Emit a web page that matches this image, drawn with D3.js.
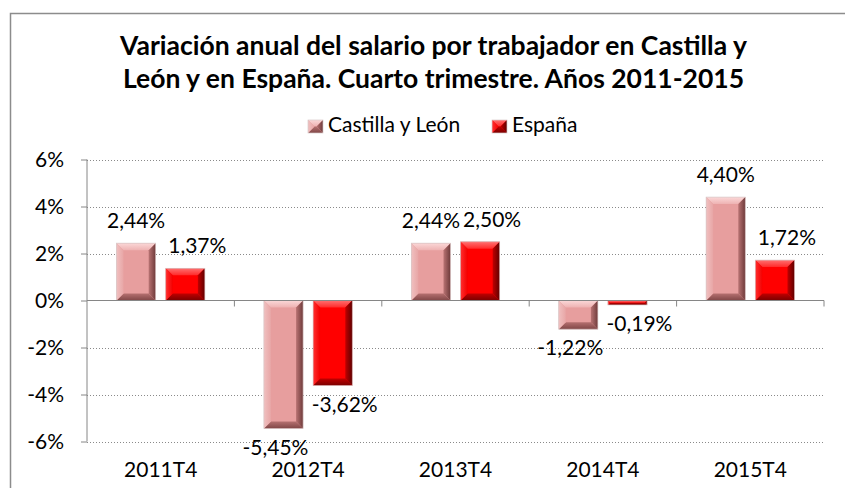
<!DOCTYPE html>
<html>
<head>
<meta charset="utf-8">
<script src="https://cdn.jsdelivr.net/npm/d3@7/dist/d3.min.js"></script>
<style>
  body { margin: 0; background: #fff; }
  text { font-family: Lato, "Open Sans", sans-serif; fill: #000; }
</style>
</head>
<body>
<div id="chart"></div>
<script>
// chart data
const categories = ['2011T4', '2012T4', '2013T4', '2014T4', '2015T4'];
const seriesNames = ['Castilla y León', 'España'];
const castillaLeon = [2.44, -5.45, 2.44, -1.22, 4.40];
const espana = [1.37, -3.62, 2.50, -0.19, 1.72];
const yTicks = [-6, -4, -2, 0, 2, 4, 6];
const titleLines = [
    'Variación anual del salario por trabajador en Castilla y',
    'León y en España. Cuarto trimestre. Años 2011-2015'
];

const width = 845, height = 488;
const plot = { left: 87, right: 824, top: 159.5, bottom: 441.5 };

// colours for the bevelled bars: face, top, left, right, bottom (each side goes from a to b)
const palettes = [
    { face: '#e79e9e', top: ['#fbd8d8', '#eeb2b2'], left: ['#f0c0c0', '#e8a6a6'],
      right: ['#b97373', '#6e3a3a'], bottom: ['#b57070', '#804646'] },
    { face: '#ff0000', top: ['#ff7070', '#ff2a2a'], left: ['#ff3030', '#f40000'],
      right: ['#c00000', '#600000'], bottom: ['#c00000', '#7a0000'] }
];

const svg = d3.select('#chart')
    .append('svg')
    .attr('width', width)
    .attr('height', height);

const defs = svg.append('defs');

// gradients for bevel sides
palettes.forEach((p, i) => {
    const sides = [
        ['top', 0, 0, 0, 1],
        ['bottom', 0, 0, 0, 1],
        ['left', 0, 0, 1, 0],
        ['right', 0, 0, 1, 0]
    ];
    sides.forEach(s => {
        const g = defs.append('linearGradient')
            .attr('id', `g${i}-${s[0]}`)
            .attr('x1', s[1]).attr('y1', s[2]).attr('x2', s[3]).attr('y2', s[4]);
        g.append('stop').attr('offset', 0).attr('stop-color', p[s[0]][0]);
        g.append('stop').attr('offset', 1).attr('stop-color', p[s[0]][1]);
    });
});

// outer frame (cut off on the right and bottom)
svg.append('rect')
    .attr('x', 10.5).attr('y', 13.5)
    .attr('width', width).attr('height', height)
    .attr('fill', '#fff')
    .attr('stroke', '#8c8c8c')
    .attr('stroke-width', 1.5);

// title
svg.append('g').selectAll('text')
    .data(titleLines)
    .enter()
    .append('text')
    .attr('x', 433.5)
    .attr('y', (d, i) => 55 + i * 33)
    .attr('text-anchor', 'middle')
    .style('font-size', '26.5px')
    .style('font-weight', 'bold')
    .text(d => d);

// scales
const x = d3.scaleBand()
    .domain(categories)
    .range([plot.left, plot.right]);

const xs = d3.scaleBand()
    .domain(seriesNames)
    .range([0, x.bandwidth()])
    .paddingInner(0.204)
    .paddingOuter(0.6);

const y = d3.scaleLinear()
    .domain([-6, 6])
    .range([plot.bottom, plot.top]);

// dotted gridlines
svg.append('g').selectAll('line')
    .data(yTicks.filter(t => t !== 0))
    .enter()
    .append('line')
    .attr('x1', plot.left).attr('x2', plot.right)
    .attr('y1', d => Math.round(y(d)) + 0.5)
    .attr('y2', d => Math.round(y(d)) + 0.5)
    .attr('stroke', '#8a8a8a')
    .attr('stroke-dasharray', '1,2');

// y axis
const yAxis = svg.append('g')
    .attr('transform', `translate(${plot.left},0)`)
    .call(d3.axisLeft(y).tickValues(yTicks).tickSize(6).tickPadding(17)
        .tickFormat(d => d + '%'));
yAxis.select('.domain').remove();
yAxis.selectAll('.tick line').attr('stroke', '#868686');
yAxis.selectAll('.tick text')
    .style('font-size', '21px')
    .attr('font-family', null);
svg.append('line')
    .attr('x1', plot.left).attr('x2', plot.left)
    .attr('y1', plot.top).attr('y2', plot.bottom)
    .attr('stroke', '#868686');

// bars
const series = [castillaLeon, espana];

function bevelBar(g, i, bx, by, w, h, maxB) {
    const b = Math.min(maxB, h / 2, w / 2);
    g.append('rect')
        .attr('x', bx).attr('y', by).attr('width', w).attr('height', h)
        .attr('fill', palettes[i].face);
    const faces = {
        top: [[bx, by], [bx + w, by], [bx + w - b, by + b], [bx + b, by + b]],
        bottom: [[bx, by + h], [bx + w, by + h], [bx + w - b, by + h - b], [bx + b, by + h - b]],
        left: [[bx, by], [bx + b, by + b], [bx + b, by + h - b], [bx, by + h]],
        right: [[bx + w, by], [bx + w - b, by + b], [bx + w - b, by + h - b], [bx + w, by + h]]
    };
    Object.keys(faces).forEach(k => {
        g.append('polygon')
            .attr('points', faces[k].map(p => p.join(',')).join(' '))
            .attr('fill', `url(#g${i}-${k})`);
    });
    g.append('rect')
        .attr('x', bx).attr('y', by).attr('width', w).attr('height', h)
        .attr('fill', 'none')
        .attr('stroke', '#d8c8c8')
        .attr('stroke-width', 0.7);
}

const barsG = svg.append('g');
series.forEach((vals, i) => {
    vals.forEach((v, j) => {
        const bx = x(categories[j]) + xs(seriesNames[i]);
        const top = y(Math.max(0, v));
        const h = Math.abs(y(v) - y(0));
        bevelBar(barsG, i, bx, top, xs.bandwidth(), h, 7);
    });
});

// x axis line and ticks
svg.append('line')
    .attr('x1', plot.left).attr('x2', plot.right)
    .attr('y1', y(0)).attr('y2', y(0))
    .attr('stroke', '#868686');
svg.append('g').selectAll('line')
    .data(categories.slice(1).concat(['end']))
    .enter()
    .append('line')
    .attr('x1', d => d === 'end' ? plot.right : x(d))
    .attr('x2', d => d === 'end' ? plot.right : x(d))
    .attr('y1', y(0)).attr('y2', y(0) + 6)
    .attr('stroke', '#868686');

// category labels
svg.append('g').selectAll('text')
    .data(categories)
    .enter()
    .append('text')
    .attr('x', d => x(d) + x.bandwidth() / 2)
    .attr('y', 477)
    .attr('text-anchor', 'middle')
    .style('font-size', '21px')
    .text(d => d);

// data labels
const fmt = v => v.toFixed(2).replace('.', ',') + '%';
series.forEach((vals, i) => {
    svg.append('g').selectAll('text')
        .data(vals)
        .enter()
        .append('text')
        .attr('x', (v, j) => x(categories[j]) + xs(seriesNames[i]) + xs.bandwidth() / 2
            + (i === 0 ? (v < 0 ? -8 : 0) : 12))
        .attr('y', v => v >= 0 ? y(v) - 15 : y(v) + 26)
        .attr('text-anchor', 'middle')
        .style('font-size', '21px')
        .text(fmt);
});

// legend
const legendX = [308, 492];
const legend = svg.append('g');
seriesNames.forEach((name, i) => {
    bevelBar(legend, i, legendX[i], 120, 15, 13, 7);
    legend.append('text')
        .attr('x', legendX[i] + 20)
        .attr('y', 132)
        .style('font-size', '21px')
        .text(name);
});
</script>
</body>
</html>
